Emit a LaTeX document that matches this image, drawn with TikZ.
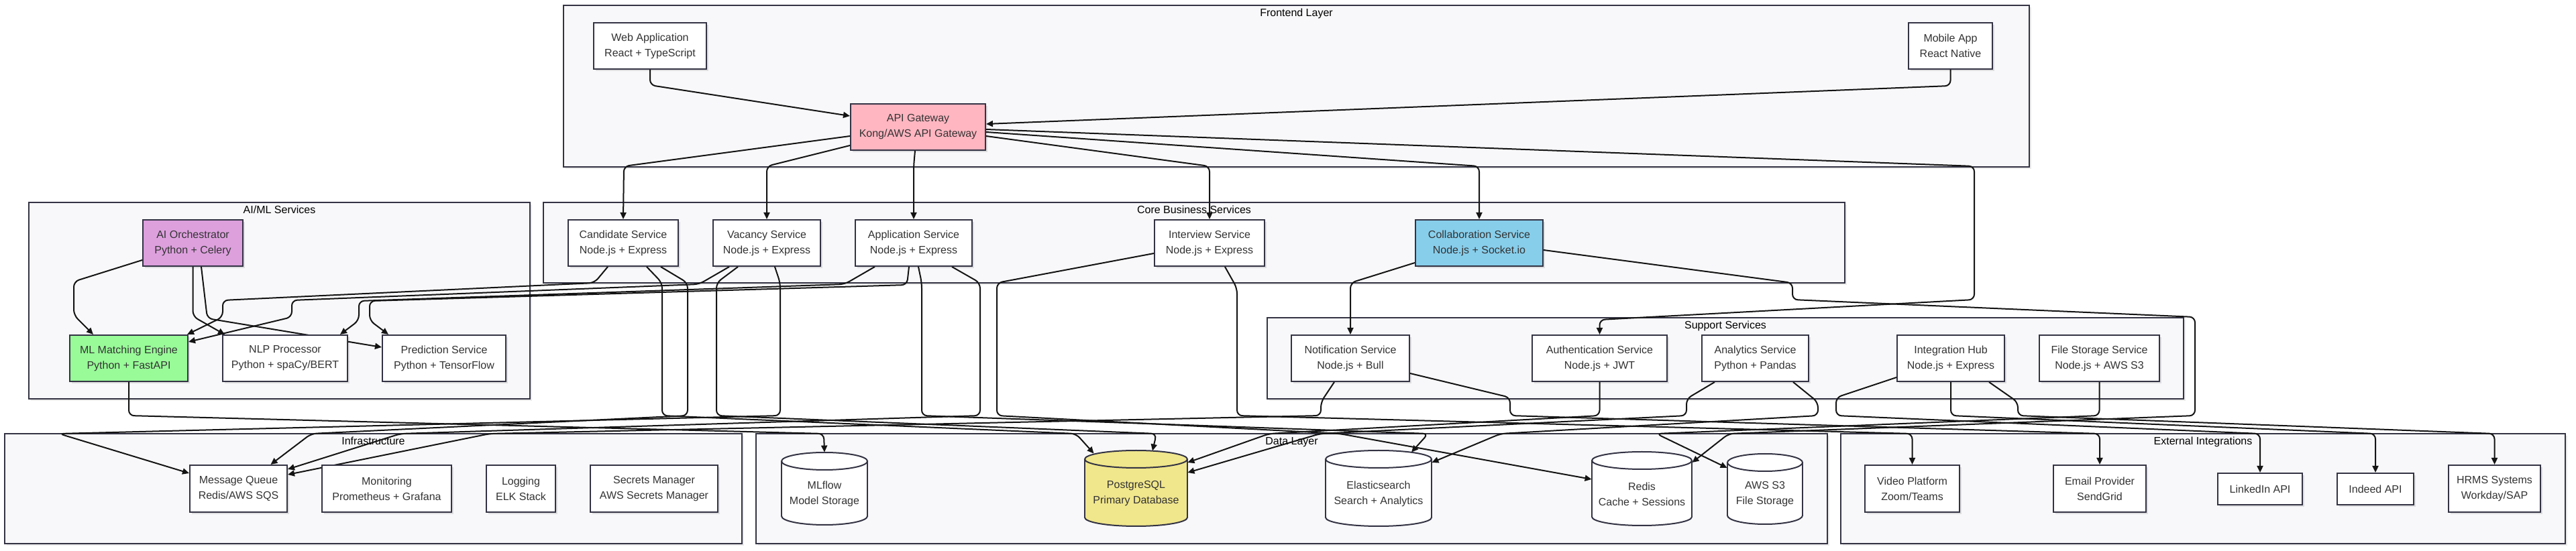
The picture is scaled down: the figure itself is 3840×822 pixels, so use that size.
\documentclass[tikz,border=0pt]{standalone}
\usepackage{fontspec}
\setmainfont{Liberation Sans}
\usetikzlibrary{arrows.meta,calc,shadows}
\pgfdeclarelayer{bg}
\pgfdeclarelayer{edgelayer}
\pgfsetlayers{bg,edgelayer,main}
\definecolor{clfill}{RGB}{248,248,250}
\definecolor{clborder}{RGB}{51,51,68}
\definecolor{nodeborder}{RGB}{51,51,68}
\definecolor{nodetext}{RGB}{51,51,51}
\definecolor{edgecol}{RGB}{20,20,20}
\definecolor{gwpink}{RGB}{255,182,193}
\definecolor{aiplum}{RGB}{221,160,221}
\definecolor{mlgreen}{RGB}{152,251,152}
\definecolor{colblue}{RGB}{135,206,235}
\definecolor{pgkhaki}{RGB}{240,230,140}
\newcommand\nodefont{\fontsize{8pt}{11.5pt}\selectfont}
\tikzset{
  sz/.style 2 args={minimum width=#1*0.5pt, minimum height=#2*0.5pt},
  box/.style={draw=nodeborder, line width=1pt, fill=white, inner sep=0pt, align=center,
    font=\nodefont, text=nodetext,
    drop shadow={shadow xshift=1.5pt, shadow yshift=-1.5pt, opacity=0.10, fill=black}},
  cluster/.style={draw=clborder, line width=1pt, fill=clfill, inner sep=0pt,
    drop shadow={shadow xshift=1.5pt, shadow yshift=-1.5pt, opacity=0.08, fill=black}},
  ctitle/.style={font=\nodefont, text=black, inner sep=0pt, anchor=base},
  txt/.style={font=\nodefont, text=nodetext, align=center, inner sep=0pt},
  cylline/.style={draw=nodeborder, line width=1pt},
  edge/.style={draw=edgecol, line width=1pt, rounded corners=4pt,
    -{Triangle[length=5pt,width=4.5pt]}},
}
\newcommand\dbcyl[7]{%
  \node[inner sep=0pt, minimum width=#4*0.5pt, minimum height=#5*0.5pt] (#1) at (#2,#3) {};
  \draw[cylline, fill=#6] (#2,{#3+#5/2-13}) ellipse [x radius=#4*0.25pt, y radius=6.5pt];
  \fill[#6] ({#2-#4/2},{#3-#5/2+13}) rectangle ({#2+#4/2},{#3+#5/2-13});
  \draw[cylline] ({#2-#4/2},{#3-#5/2+13}) -- ({#2-#4/2},{#3+#5/2-13});
  \draw[cylline] ({#2+#4/2},{#3-#5/2+13}) -- ({#2+#4/2},{#3+#5/2-13});
  \draw[cylline, fill=#6] (#2,{#3-#5/2+13}) ellipse [x radius=#4*0.25pt, y radius=6.5pt];
  \node[txt] (#1-t) at (#2,{#3+8}) {#7};
}
\begin{document}
\begin{tikzpicture}[x=0.5pt,y=-0.5pt]
\useasboundingbox (0,0) rectangle (3840,822);
\begin{pgfonlayer}{bg}
  \fill[white] (0,0) rectangle (3840,822);
  \node[cluster, sz={2185}{241}] (cfront) at (1932.5,128.5) {};
  \node[cluster, sz={747}{293}] (caiml) at (416.5,448.5) {};
  \node[cluster, sz={1940}{120}] (ccore) at (1780,362) {};
  \node[cluster, sz={1366}{121}] (csupp) at (2572,534.5) {};
  \node[cluster, sz={1099}{164}] (cinfra) at (556.5,729) {};
  \node[cluster, sz={1597}{164}] (cdata) at (1925.5,729) {};
  \node[cluster, sz={1080}{164}] (cext) at (3284,729) {};
  \node[ctitle] (tfront) at (1932.5,25) {Frontend Layer};
  \node[ctitle] (taiml) at (416.5,319) {AI/ML Services};
  \node[ctitle] (tcore) at (1780,319) {Core Business Services};
  \node[ctitle] (tsupp) at (2572,491) {Support Services};
  \node[ctitle] (tinfra) at (556.5,664) {Infrastructure};
  \node[ctitle] (tdata) at (1925.5,664) {Data Layer};
  \node[ctitle] (text) at (3284,664) {External Integrations};
\end{pgfonlayer}

% Frontend
\node[box, sz={168}{69}] (web) at (969,68.5) {Web Application\\React + TypeScript};
\node[box, sz={125}{69}] (mobile) at (2907.5,68.5) {Mobile App\\React Native};
\node[box, sz={201}{69}, fill=gwpink] (gw) at (1368.5,189.5) {API Gateway\\Kong/AWS API Gateway};
% AI/ML
\node[box, sz={149}{69}, fill=aiplum] (aio) at (287.5,362.5) {AI Orchestrator\\Python + Celery};
\node[box, sz={176}{69}, fill=mlgreen] (mle) at (192,534.5) {ML Matching Engine\\Python + FastAPI};
\node[box, sz={186}{69}] (nlp) at (425,534.5) {NLP Processor\\Python + spaCy/BERT};
\node[box, sz={184}{69}] (pred) at (662,534.5) {Prediction Service\\Python + TensorFlow};
% Core
\node[box, sz={164}{69}] (cs) at (929,362.5) {Candidate Service\\Node.js + Express};
\node[box, sz={160}{69}] (vs) at (1143,362.5) {Vacancy Service\\Node.js + Express};
\node[box, sz={174}{69}] (app) at (1362,362.5) {Application Service\\Node.js + Express};
\node[box, sz={164}{69}] (intv) at (1803,362.5) {Interview Service\\Node.js + Express};
\node[box, sz={190}{69}, fill=colblue] (collab) at (2205,362.5) {Collaboration Service\\Node.js + Socket.io};
% Support
\node[box, sz={176}{69}] (notif) at (2013,534.5) {Notification Service\\Node.js + Bull};
\node[box, sz={201}{69}] (auth) at (2384.5,534.5) {Authentication Service\\Node.js + JWT};
\node[box, sz={159}{69}] (anal) at (2616.5,534.5) {Analytics Service\\Python + Pandas};
\node[box, sz={160}{69}] (ihub) at (2908,534.5) {Integration Hub\\Node.js + Express};
\node[box, sz={179}{69}] (file) at (3129.5,534.5) {File Storage Service\\Node.js + AWS S3};
% Infrastructure
\node[box, sz={145}{70}] (mq) at (355.5,729) {Message Queue\\Redis/AWS SQS};
\node[box, sz={193}{70}] (mon) at (576.5,729) {Monitoring\\Prometheus + Grafana};
\node[box, sz={103}{70}] (logn) at (776.5,729) {Logging\\ELK Stack};
\node[box, sz={190}{70}] (sec) at (975,729) {Secrets Manager\\AWS Secrets Manager};
% External
\node[box, sz={141}{70}] (video) at (2850.5,729) {Video Platform\\Zoom/Teams};
\node[box, sz={138}{70}] (email) at (3130,729) {Email Provider\\SendGrid};
\node[box, sz={126}{47}] (linked) at (3369,729.5) {LinkedIn API};
\node[box, sz={114}{47}] (indeed) at (3541,729.5) {Indeed API};
\node[box, sz={137}{70}] (hrms) at (3718.5,729) {HRMS Systems\\Workday/SAP};
% Data
\dbcyl{mlflow}{1229}{729}{128}{108}{white}{MLflow\\Model Storage}
\dbcyl{pg}{1693.5}{728.5}{153}{113}{pgkhaki}{PostgreSQL\\Primary Database}
\dbcyl{es}{2055}{728.5}{158}{113}{white}{Elasticsearch\\Search + Analytics}
\dbcyl{redis}{2447.5}{729}{149}{110}{white}{Redis\\Cache + Sessions}
\dbcyl{s3}{2631}{729.5}{112}{105}{white}{AWS S3\\File Storage}

\begin{pgfonlayer}{edgelayer}
% frontend
\draw[edge] (web.south) -- (969,127) -- ($(gw.west)+(0,-16.5)$);
\draw[edge] (mobile.south) -- (2907.5,128) -- ($(gw.east)+(0,-4.5)$);
\draw[edge] ($(gw.west)+(0,13.5)$) -- (930,248) -- (cs.north);
\draw[edge] ($(gw.west)+(0,27.5)$) -- (1143,248) -- (vs.north);
\draw[edge] ($(gw.south)+(-4.5,0)$) -- (1362,248) -- (app.north);
\draw[edge] ($(gw.east)+(0,13.5)$) -- (1803,248) -- (intv.north);
\draw[edge] ($(gw.east)+(0,7.5)$) -- (2205,248) -- (collab.north);
\draw[edge] ($(gw.east)+(0,3.5)$) -- (2943,248) -- (2943,447) -- (2384.5,477) -- (auth.north);
% collaboration
\draw[edge] ($(collab.west)+(0,29.5)$) -- (2013,422) -- (notif.north);
\draw[edge] ($(collab.east)+(0,10.5)$) -- (2672,422) -- (2672,447) -- (3272,473) -- (3272,620) -- (2577,647) -- ($(redis.east)+(0,-39)$);
% AI orchestrator
\draw[edge] ($(aio.west)+(0,25.5)$) -- (110,420) -- (110,470) -- ($(mle.north)+(-53,0)$);
\draw[edge] (aio.south) -- (287.5,472) -- ($(nlp.north west)+(4,0)$);
\draw[edge] ($(aio.south)+(12.5,0)$) -- (309,475) -- ($(pred.west)+(0,-16.5)$);
% core to AI
\draw[edge] ($(cs.south)+(-23,0)$) -- (886,422) -- (332,448) -- (332,473) -- ($(mle.north east)+(-2,0)$);
\draw[edge] ($(vs.south)+(-56,0)$) -- (1042,424) -- (435,448) -- (435,473) -- ($(mle.east)+(0,-24.5)$);
\draw[edge] ($(app.south)+(-58,0)$) -- (1259,424) -- (535,449) -- (535,478) -- ($(nlp.north east)+(-12,0)$);
\draw[edge] ($(app.south)+(-7,0)$) -- (1352,425) -- (551,449) -- (551,478) -- ($(pred.north west)+(10,0)$);
% lower channel
\draw[edge] (mle.south) -- (192,620) -- (1228,647) -- (mlflow.north);
\draw[edge] ($(cs.south)+(35,0)$) -- (987,422) -- (987,620) -- (1604,647) -- ($(pg.north west)+(14,5)$);
\draw[edge] ($(cs.south)+(56,0)$) -- (1025,422) -- (1025,620) -- (464,647) -- ($(mq.north)+(48,0)$);
\draw[edge] ($(vs.south)+(-43,0)$) -- (1068,422) -- (1068,620) -- (1724,647) -- ($(pg.north)+(24.5,1)$);
\draw[edge] ($(vs.south)+(12,0)$) -- (1163,422) -- (1163,620) -- (88,647) -- ($(mq.west)+(0,-23)$);
\draw[edge] ($(app.south)+(7,0)$) -- (1374,422) -- (1374,620) -- (2129,647) -- ($(es.north)+(49,3)$);
\draw[edge] ($(app.south)+(57,0)$) -- (1461,422) -- (1461,620) -- (597,647) -- ($(mq.east)+(0,-29)$);
\draw[edge] ($(intv.west)+(0,15.5)$) -- (1486,422) -- (1486,620) -- (1997,647) -- ($(redis.west)+(0,-14)$);
\draw[edge] ($(intv.south)+(23,0)$) -- (1844,430) -- (1844,620) -- (2850.5,647) -- (video.north);
\draw[edge] ($(notif.south)+(-24,0)$) -- (1969,600) -- (1969,620) -- (730,647) -- ($(mq.east)+(0,-21)$);
\draw[edge] ($(notif.east)+(0,22.5)$) -- (2251,593) -- (2251,620) -- (3130,647) -- (email.north);
\draw[edge] (auth.south) -- (2384.5,620) -- (1892,647) -- ($(pg.east)+(0,-38.5)$);
\draw[edge] ($(anal.south)+(-60.5,0)$) -- (2514,595) -- (2514,620) -- (1968,647) -- ($(pg.east)+(0,-23.5)$);
\draw[edge] ($(anal.south)+(56.5,0)$) -- (2710,600) -- (2710,620) -- (2237,647) -- ($(es.east)+(0,-38.5)$);
\draw[edge] ($(ihub.west)+(0,28.5)$) -- (2737,593) -- (2737,620) -- (3369,647) -- (linked.north);
\draw[edge] (ihub.south) -- (2908,620) -- (3541,647) -- (indeed.north);
\draw[edge] ($(ihub.south)+(57,0)$) -- (3008,600) -- (3008,620) -- (3718.5,647) -- (hrms.north);
\draw[edge] (file.south) -- (3129.5,620) -- (2469,647) -- ($(s3.west)+(0,-31.5)$);
\end{pgfonlayer}
\end{tikzpicture}
\end{document}
